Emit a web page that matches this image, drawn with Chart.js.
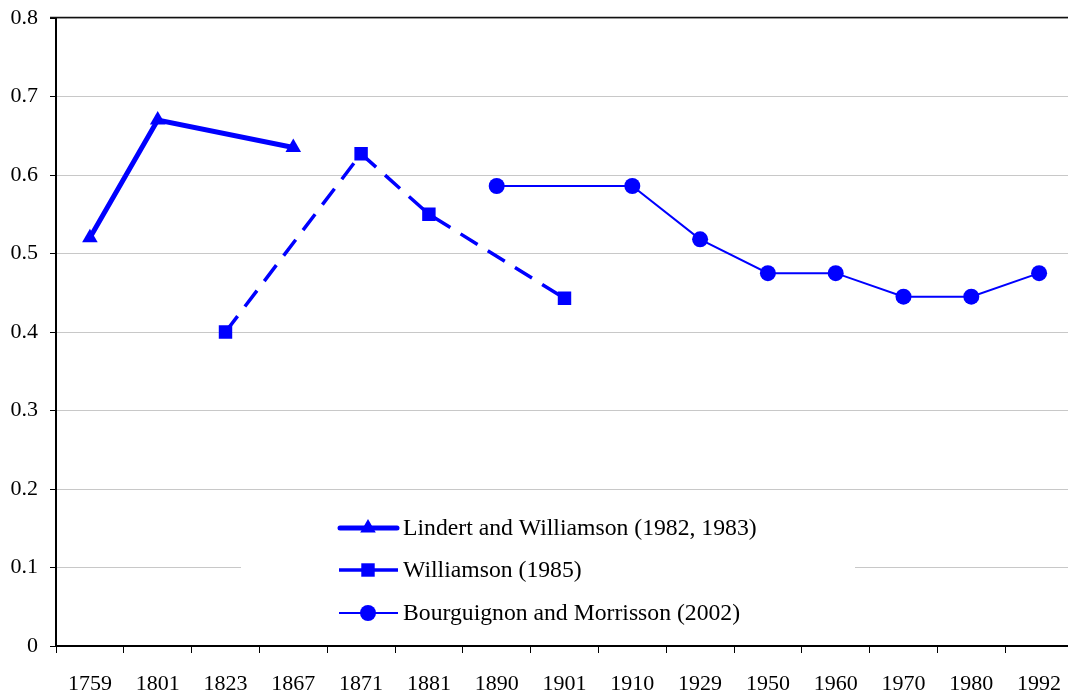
<!DOCTYPE html>
<html>
<head>
<meta charset="utf-8">
<script src="https://cdn.jsdelivr.net/npm/chart.js@4/dist/chart.umd.min.js"></script>
<style>
    html, body { margin: 0; padding: 0; background: #fff; overflow: hidden; }
    canvas { display: block; }
</style>
</head>
<body>
<canvas id="ginicanvas" width="1068" height="696" style="width:1068px;height:696px"></canvas>
<script>
const years = ["1759", "1801", "1823", "1867", "1871", "1881", "1890", "1901", "1910", "1929", "1950", "1960", "1970", "1980", "1992"];
const lindertWilliamson = [0.52, 0.67, null, 0.635, null, null, null, null, null, null, null, null, null, null, null];
const williamson = [null, null, 0.40, null, 0.627, 0.55, null, 0.443, null, null, null, null, null, null, null];
const bourguignonMorrisson = [null, null, null, null, null, null, 0.586, null, 0.586, 0.518, 0.475, 0.475, 0.445, 0.445, 0.475];
const yTicks = ["0", "0.1", "0.2", "0.3", "0.4", "0.5", "0.6", "0.7", "0.8"];
const seriesNames = ["Lindert and Williamson (1982, 1983)", "Williamson (1985)", "Bourguignon and Morrisson (2002)"];

const BLUE = "#0000ff";
const FONT = "'Liberation Serif', 'Times New Roman', serif";
const PLOT_RIGHT = 1073; // the plot runs a few pixels past the picture's right edge

// stretch the x scale past the canvas edge, before the datasets get positioned
const widePlot = {
    id: "widePlot",
    afterLayout(chart) {
        const x = chart.scales.x;
        x.right = PLOT_RIGHT;
        x.width = x.right - x.left;
        chart.chartArea.right = PLOT_RIGHT;
        chart.chartArea.width = PLOT_RIGHT - chart.chartArea.left;
        x.configure();
    }
};

// white box behind the legend + the legend itself, drawn inside the plot
const insideLegend = {
    id: "insideLegend",
    beforeDatasetsDraw(chart) {
        const { ctx } = chart;
        ctx.save();
        ctx.fillStyle = "#fff";
        ctx.fillRect(241, 500, 614, 140);
        ctx.restore();
    },
    afterDraw(chart) {
        const { ctx, chartArea } = chart;
        ctx.save();
        // dark frame line on top
        ctx.strokeStyle = "#111";
        ctx.lineWidth = 1.5;
        ctx.beginPath();
        ctx.moveTo(50, chartArea.top - 0.5);
        ctx.lineTo(chart.width, chartArea.top - 0.5);
        ctx.stroke();

        const rows = [528, 570, 613];
        chart.data.datasets.forEach((ds, i) => {
            const y = rows[i];
            ctx.strokeStyle = ds.borderColor;
            ctx.lineWidth = ds.borderWidth;
            ctx.lineCap = i === 0 ? "round" : "butt";
            ctx.setLineDash([]);
            ctx.beginPath();
            ctx.moveTo(i === 0 ? 340 : 339, y);
            ctx.lineTo(i === 0 ? 397 : 398, y);
            ctx.stroke();
            ctx.fillStyle = ds.pointBackgroundColor;
            Chart.helpers.drawPoint(ctx, {
                pointStyle: ds.pointStyle,
                radius: ds.pointRadius,
                rotation: 0,
                borderWidth: 0
            }, 368, y);
            ctx.fillStyle = "#000";
            ctx.font = "23.7px " + FONT;
            ctx.textAlign = "left";
            ctx.textBaseline = "middle";
            ctx.fillText(seriesNames[i], 403, y + 1);
        });
        ctx.restore();
    }
};

new Chart(document.getElementById("ginicanvas"), {
    type: "line",
    data: {
        labels: years,
        datasets: [{
            label: seriesNames[0],
            data: lindertWilliamson,
            borderColor: BLUE,
            backgroundColor: BLUE,
            pointBackgroundColor: BLUE,
            borderWidth: 5,
            pointStyle: "triangle",
            pointRadius: 9,
            pointBorderWidth: 0,
            spanGaps: true,
            tension: 0
        }, {
            label: seriesNames[1],
            data: williamson,
            borderColor: BLUE,
            backgroundColor: BLUE,
            pointBackgroundColor: BLUE,
            borderWidth: 3.5,
            borderDash: [20, 12],
            pointStyle: "rect",
            pointRadius: 9.5,
            pointBorderWidth: 0,
            spanGaps: true,
            tension: 0
        }, {
            label: seriesNames[2],
            data: bourguignonMorrisson,
            borderColor: BLUE,
            backgroundColor: BLUE,
            pointBackgroundColor: BLUE,
            borderWidth: 2,
            pointStyle: "circle",
            pointRadius: 8,
            pointBorderWidth: 0,
            spanGaps: true,
            tension: 0
        }]
    },
    options: {
        responsive: false,
        animation: false,
        layout: { padding: { top: 18, right: 0, left: 0, bottom: 0 } },
        plugins: {
            legend: { display: false },
            tooltip: { enabled: false }
        },
        scales: {
            x: {
                type: "category",
                offset: true,
                afterFit(scale) {
                    scale.height = 50;
                    scale.paddingLeft = 0;
                    scale.paddingRight = 0;
                },
                grid: {
                    offset: true,
                    drawOnChartArea: false,
                    drawTicks: true,
                    tickLength: 7,
                    tickColor: "#000",
                    tickWidth: 1
                },
                border: { display: true, color: "#000", width: 2 },
                ticks: {
                    color: "#000",
                    font: { family: FONT, size: 22 },
                    padding: 18,
                    maxRotation: 0,
                    autoSkip: false
                }
            },
            y: {
                min: 0,
                max: 0.8,
                afterFit(scale) {
                    scale.width = 56;
                    scale.paddingTop = 0;
                    scale.paddingBottom = 0;
                },
                grid: {
                    color: "#c8c8c8",
                    lineWidth: 1,
                    drawTicks: true,
                    tickLength: 6,
                    tickColor: "#000"
                },
                border: { display: true, color: "#000", width: 2 },
                ticks: {
                    stepSize: 0.1,
                    color: "#000",
                    font: { family: FONT, size: 22 },
                    padding: 12,
                    callback(value, index) {
                        return yTicks[index];
                    }
                }
            }
        }
    },
    plugins: [widePlot, insideLegend]
});
</script>
</body>
</html>
